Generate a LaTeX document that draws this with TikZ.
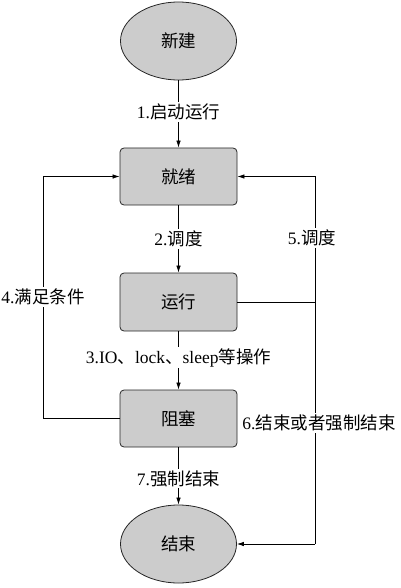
\documentclass[tikz,border=0pt]{standalone}
\usepackage{fontspec}
\setmainfont{Liberation Serif}
\newfontfamily\cjkf{Noto Sans CJK SC}
\usetikzlibrary{shapes.geometric,arrows.meta}
\begin{document}
\begin{tikzpicture}[x=1pt,y=-1pt,
  every node/.style={font=\fontsize{17.5}{21}\selectfont},
  state/.style={draw=black!85,line width=0.8pt,fill=gray!40,rounded corners=4pt,minimum width=117pt,minimum height=57pt,inner sep=0pt},
  term/.style={ellipse,draw=black!85,line width=0.8pt,fill=gray!40,minimum width=116pt,minimum height=78pt,inner sep=0pt},
  conn/.style={line width=0.75pt,-{Latex[length=7pt,width=4.5pt]}},
  plain/.style={line width=0.75pt},
  lbl/.style={fill=white,inner sep=1.5pt}]
\useasboundingbox (0,0) rectangle (400,588);
\node[term] (new) at (178.5,41) {\cjkf 新建};
\node[state] (ready) at (178.5,176.5) {\cjkf 就绪};
\node[state,minimum height=58pt] (run) at (178.5,302) {\cjkf 运行};
\node[state] (block) at (178.5,418.5) {\cjkf 阻塞};
\node[term] (end) at (178.5,544) {\cjkf 结束};
\coordinate (lb) at (43,418.5);
\coordinate (rr) at (315,302);
\coordinate (re) at (315,544);
% main chain
\draw[conn] (new) -- node[lbl,pos=0.47] (l1) {1.\cjkf 启动运行} (ready);
\draw[conn] (ready) -- node[lbl] (l2) {2.\cjkf 调度} (run);
\draw[conn] (run) -- node[lbl,pos=0.45] (l3) {3.IO\cjkf 、\rmfamily lock\cjkf 、\rmfamily sleep\cjkf 等操作} (block);
\draw[conn] (block) -- node[lbl,pos=0.55] (l7) {7.\cjkf 强制结束} (end);
% loops
\draw[plain] (block.west) -- (lb);
\draw[conn] (lb) |- (ready.west);
\draw[plain] (run.east) -- (rr);
\draw[conn] (rr) |- (ready.east);
\draw[plain] (rr) -- (re);
\draw[conn] (re) -- (end.east);
\node[lbl] (l4) at (43,297) {4.\cjkf 满足条件};
\node[lbl] (l5) at (312,238) {5.\cjkf 调度};
\node[lbl] (l6) at (319,423) {6.\cjkf 结束或者强制结束};
\end{tikzpicture}
\end{document}
